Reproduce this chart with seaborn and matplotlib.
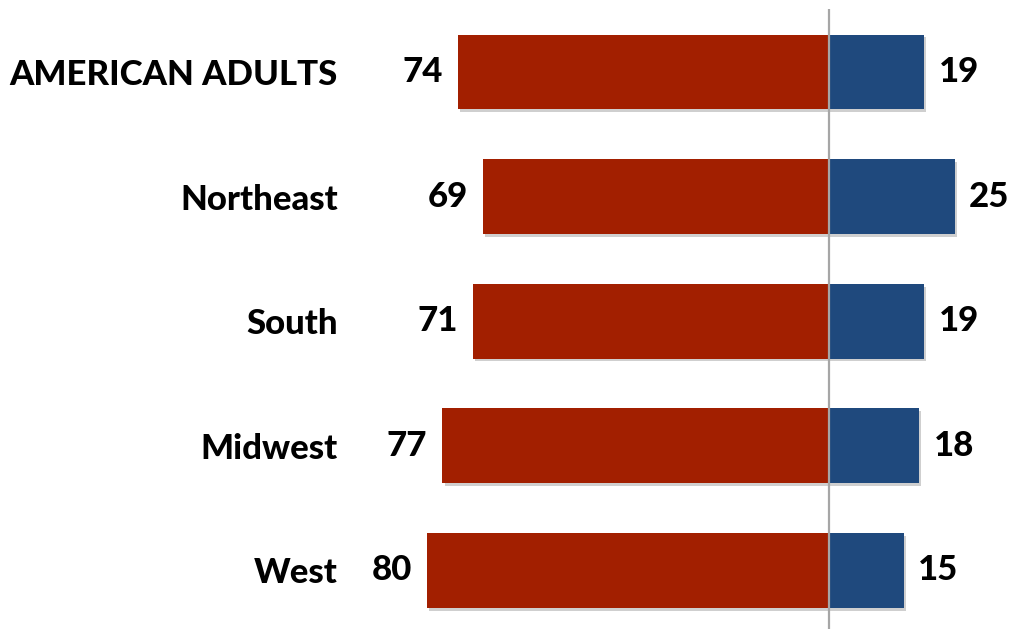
import matplotlib
matplotlib.use("Agg")
import matplotlib.pyplot as plt
import matplotlib.patheffects as pe
import seaborn as sns
import pandas as pd

# Survey results by region (percent)
regions = ["AMERICAN ADULTS", "Northeast", "South", "Midwest", "West"]
left_values = [74, 69, 71, 77, 80]
right_values = [19, 25, 19, 18, 15]

RED = "#A21F00"
BLUE = "#1F497D"
FONT = "Lato"
WEIGHT = 900
SIZE = 25

sns.set_theme(style="white")
plt.rcParams["font.family"] = [FONT, "DejaVu Sans"]

df = pd.DataFrame({
    "region": regions,
    "left": [-v for v in left_values],
    "right": right_values,
})

fig = plt.figure(figsize=(10.11, 6.29), dpi=100)
W, H = 1011, 629
ax = fig.add_axes([350 / W, 0, 661 / W, (H - 9) / H])

sns.barplot(data=df, x="left", y="region", order=regions, color=RED,
            width=0.6, saturation=1, ax=ax, orient="h")
sns.barplot(data=df, x="right", y="region", order=regions, color=BLUE,
            width=0.6, saturation=1, ax=ax, orient="h")

shadow = [pe.SimplePatchShadow(offset=(1.5, -2), shadow_rgbFace="#777777", alpha=0.35),
          pe.Normal()]
for bar in ax.patches:
    bar.set_edgecolor("none")
    bar.set_path_effects(shadow)

ax.set_xlim(-(829 - 350) / 5.02, (1011 - 829) / 5.02)
ax.set_ylim((629 - 72) / 124.6, (9 - 72) / 124.6)
ax.axvline(0, color="#A6A6A6", lw=1.6, zorder=5)

for i, (lv, rv) in enumerate(zip(left_values, right_values)):
    ax.text(-lv - 3.0, i, f"{lv}", ha="right", va="center",
            fontsize=SIZE, fontweight=WEIGHT, color="black")
    ax.text(rv + 2.8, i, f"{rv}", ha="left", va="center",
            fontsize=SIZE, fontweight=WEIGHT, color="black")

ax.set_yticks(range(len(regions)))
ax.set_yticklabels(regions, fontsize=SIZE, fontweight=WEIGHT, color="black")
ax.tick_params(axis="y", length=0, pad=(350 - 338) * 72 / 100)
ax.set_xticks([])
ax.set_xlabel("")
ax.set_ylabel("")
for s in ax.spines.values():
    s.set_visible(False)

fig.savefig("out.png", dpi=100)
